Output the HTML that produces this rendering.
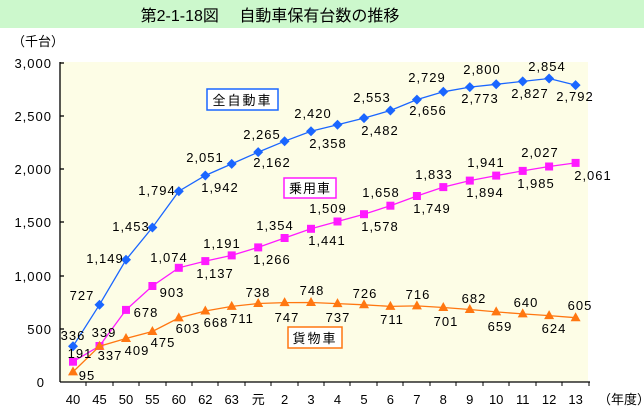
<!DOCTYPE html>
<html><head><meta charset="utf-8"><style>
body{margin:0;background:#fff;width:644px;height:415px;overflow:hidden}
svg{display:block}
text{font-family:"Liberation Sans","Noto Sans CJK JP",sans-serif;font-size:13px;fill:#000}
.n{letter-spacing:1px}
</style></head><body>
<svg width="644" height="415" viewBox="0 0 644 415">
<rect x="0" y="0" width="644" height="28" fill="#ccf8cc"/>
<text x="270" y="21" text-anchor="middle" style="font-size:16px">第2-1-18図　 自動車保有台数の推移</text>
<text x="12" y="46">（千台）</text>
<rect x="60" y="62" width="528" height="320" fill="#fdfde6"/>
<g stroke="#000" stroke-width="1.3">
<line x1="60" y1="62" x2="60" y2="382"/>
<line x1="60" y1="382" x2="590" y2="382"/>
<line x1="60" y1="63" x2="64" y2="63"/><line x1="60" y1="116" x2="64" y2="116"/><line x1="60" y1="169" x2="64" y2="169"/><line x1="60" y1="222" x2="64" y2="222"/><line x1="60" y1="276" x2="64" y2="276"/><line x1="60" y1="329" x2="64" y2="329"/>
</g>
<g stroke="#000" stroke-width="1">
<line x1="86" y1="382" x2="86" y2="386"/><line x1="113" y1="382" x2="113" y2="386"/><line x1="139" y1="382" x2="139" y2="386"/><line x1="166" y1="382" x2="166" y2="386"/><line x1="192" y1="382" x2="192" y2="386"/><line x1="218" y1="382" x2="218" y2="386"/><line x1="245" y1="382" x2="245" y2="386"/><line x1="271" y1="382" x2="271" y2="386"/><line x1="298" y1="382" x2="298" y2="386"/><line x1="324" y1="382" x2="324" y2="386"/><line x1="350" y1="382" x2="350" y2="386"/><line x1="377" y1="382" x2="377" y2="386"/><line x1="403" y1="382" x2="403" y2="386"/><line x1="430" y1="382" x2="430" y2="386"/><line x1="456" y1="382" x2="456" y2="386"/><line x1="483" y1="382" x2="483" y2="386"/><line x1="509" y1="382" x2="509" y2="386"/><line x1="536" y1="382" x2="536" y2="386"/><line x1="562" y1="382" x2="562" y2="386"/><line x1="589" y1="382" x2="589" y2="386"/>
</g>
<g text-anchor="end" class="n">
<text x="52" y="68">3,000</text><text x="52" y="121">2,500</text><text x="52" y="174">2,000</text><text x="52" y="227">1,500</text><text x="52" y="281">1,000</text><text x="52" y="334">500</text><text x="45" y="387">0</text>
</g>
<g text-anchor="middle">
<text x="73" y="404">40</text><text x="99.5" y="404">45</text><text x="126" y="404">50</text><text x="152.4" y="404">55</text><text x="178.8" y="404">60</text><text x="205.3" y="404">62</text><text x="231.7" y="404">63</text><text x="258.2" y="404">元</text><text x="284.6" y="404">2</text><text x="311" y="404">3</text><text x="337.5" y="404">4</text><text x="364" y="404">5</text><text x="390.4" y="404">6</text><text x="416.9" y="404">7</text><text x="443.3" y="404">8</text><text x="469.8" y="404">9</text><text x="496.2" y="404">10</text><text x="522.7" y="404">11</text><text x="549.1" y="404">12</text><text x="575.6" y="404">13</text>
</g>
<text x="598" y="404">（年度）</text>

<polyline fill="none" stroke="#1a66ff" stroke-width="1.3" points="73,346.3 99.5,304.7 126,259.8 152.4,227.5 178.8,191.2 205.3,175.5 231.7,163.9 258.2,152.1 284.6,141.2 311,131.3 337.5,124.7 364,118.1 390.4,110.5 416.9,99.6 443.3,91.8 469.8,87.1 496.2,84.3 522.7,81.4 549.1,78.5 575.6,85.1"/>
<g fill="#1a66ff">
<path d="M73,341.3l5,5-5,5-5-5z"/><path d="M99.5,299.7l5,5-5,5-5-5z"/><path d="M126,254.8l5,5-5,5-5-5z"/><path d="M152.4,222.5l5,5-5,5-5-5z"/><path d="M178.8,186.2l5,5-5,5-5-5z"/><path d="M205.3,170.5l5,5-5,5-5-5z"/><path d="M231.7,158.9l5,5-5,5-5-5z"/><path d="M258.2,147.1l5,5-5,5-5-5z"/><path d="M284.6,136.2l5,5-5,5-5-5z"/><path d="M311,126.3l5,5-5,5-5-5z"/><path d="M337.5,119.7l5,5-5,5-5-5z"/><path d="M364,113.1l5,5-5,5-5-5z"/><path d="M390.4,105.5l5,5-5,5-5-5z"/><path d="M416.9,94.6l5,5-5,5-5-5z"/><path d="M443.3,86.8l5,5-5,5-5-5z"/><path d="M469.8,82.1l5,5-5,5-5-5z"/><path d="M496.2,79.3l5,5-5,5-5-5z"/><path d="M522.7,76.4l5,5-5,5-5-5z"/><path d="M549.1,73.5l5,5-5,5-5-5z"/><path d="M575.6,80.1l5,5-5,5-5-5z"/>
</g>
<polyline fill="none" stroke="#ff1aff" stroke-width="1.3" points="73,361.7 99.5,346 126,309.9 152.4,286 178.8,267.8 205.3,261.1 231.7,255.4 258.2,247.4 284.6,238 311,228.8 337.5,221.5 364,214.2 390.4,205.7 416.9,196 443.3,187.1 469.8,180.6 496.2,175.6 522.7,170.9 549.1,166.5 575.6,162.9"/>
<g fill="#ff1aff">
<rect x="69" y="357.7" width="8" height="8"/><rect x="95.5" y="342" width="8" height="8"/><rect x="122" y="305.9" width="8" height="8"/><rect x="148.4" y="282" width="8" height="8"/><rect x="174.8" y="263.8" width="8" height="8"/><rect x="201.3" y="257.1" width="8" height="8"/><rect x="227.7" y="251.4" width="8" height="8"/><rect x="254.2" y="243.4" width="8" height="8"/><rect x="280.6" y="234" width="8" height="8"/><rect x="307" y="224.8" width="8" height="8"/><rect x="333.5" y="217.5" width="8" height="8"/><rect x="360" y="210.2" width="8" height="8"/><rect x="386.4" y="201.7" width="8" height="8"/><rect x="412.9" y="192" width="8" height="8"/><rect x="439.3" y="183.1" width="8" height="8"/><rect x="465.8" y="176.6" width="8" height="8"/><rect x="492.2" y="171.6" width="8" height="8"/><rect x="518.7" y="166.9" width="8" height="8"/><rect x="545.1" y="162.5" width="8" height="8"/><rect x="571.6" y="158.9" width="8" height="8"/>
</g>
<polyline fill="none" stroke="#ff7711" stroke-width="1.3" points="73,371.9 99.5,346.2 126,338.5 152.4,331.5 178.8,317.9 205.3,311 231.7,306.4 258.2,303.5 284.6,302.6 311,302.5 337.5,303.6 364,304.8 390.4,306.4 416.9,305.9 443.3,307.5 469.8,309.5 496.2,311.9 522.7,313.9 549.1,315.6 575.6,317.7"/>
<g fill="#ff7711">
<path d="M73,366.4l5,9h-10z"/><path d="M99.5,340.7l5,9h-10z"/><path d="M126,333l5,9h-10z"/><path d="M152.4,326l5,9h-10z"/><path d="M178.8,312.4l5,9h-10z"/><path d="M205.3,305.5l5,9h-10z"/><path d="M231.7,300.9l5,9h-10z"/><path d="M258.2,298l5,9h-10z"/><path d="M284.6,297.1l5,9h-10z"/><path d="M311,297l5,9h-10z"/><path d="M337.5,298.1l5,9h-10z"/><path d="M364,299.3l5,9h-10z"/><path d="M390.4,300.9l5,9h-10z"/><path d="M416.9,300.4l5,9h-10z"/><path d="M443.3,302l5,9h-10z"/><path d="M469.8,304l5,9h-10z"/><path d="M496.2,306.4l5,9h-10z"/><path d="M522.7,308.4l5,9h-10z"/><path d="M549.1,310.1l5,9h-10z"/><path d="M575.6,312.2l5,9h-10z"/>
</g>

<g class="n" text-anchor="middle">
<text x="73" y="340">336</text>
<text x="82" y="300">727</text>
<text x="105" y="263">1,149</text>
<text x="131" y="231">1,453</text>
<text x="157" y="195">1,794</text>
<text x="220" y="192">1,942</text>
<text x="205" y="162">2,051</text>
<text x="272" y="167">2,162</text>
<text x="262" y="139">2,265</text>
<text x="328" y="148">2,358</text>
<text x="313" y="118">2,420</text>
<text x="380" y="135">2,482</text>
<text x="372" y="102">2,553</text>
<text x="428" y="115">2,656</text>
<text x="427" y="82">2,729</text>
<text x="480" y="103">2,773</text>
<text x="482" y="74">2,800</text>
<text x="530" y="98">2,827</text>
<text x="547" y="71">2,854</text>
<text x="575" y="101">2,792</text>
</g>
<g class="n" text-anchor="middle">
<text x="80" y="358">191</text>
<text x="104" y="337">339</text>
<text x="146" y="317">678</text>
<text x="172" y="297">903</text>
<text x="169" y="262">1,074</text>
<text x="215" y="278">1,137</text>
<text x="222" y="248">1,191</text>
<text x="272" y="264">1,266</text>
<text x="275" y="230">1,354</text>
<text x="327" y="245">1,441</text>
<text x="328" y="213">1,509</text>
<text x="380" y="231">1,578</text>
<text x="381" y="197">1,658</text>
<text x="432" y="213">1,749</text>
<text x="434" y="179">1,833</text>
<text x="485" y="197">1,894</text>
<text x="486" y="167">1,941</text>
<text x="536" y="188">1,985</text>
<text x="540" y="157">2,027</text>
<text x="593" y="180">2,061</text>
</g>
<g class="n" text-anchor="middle">
<text x="87" y="380">95</text>
<text x="110" y="360">337</text>
<text x="137" y="355">409</text>
<text x="163" y="347">475</text>
<text x="188" y="333">603</text>
<text x="216" y="327">668</text>
<text x="242" y="323">711</text>
<text x="258" y="297">738</text>
<text x="287" y="322">747</text>
<text x="312" y="295">748</text>
<text x="338" y="322">737</text>
<text x="365" y="298">726</text>
<text x="392" y="324">711</text>
<text x="418" y="299">716</text>
<text x="446" y="326">701</text>
<text x="474" y="303">682</text>
<text x="500" y="331">659</text>
<text x="526" y="307">640</text>
<text x="554" y="333">624</text>
<text x="580" y="310">605</text>
</g>

<rect x="207" y="89" width="71" height="21" fill="#fff" stroke="#1a66ff" stroke-width="1.5"/>
<text x="242.5" y="105" text-anchor="middle" style="letter-spacing:2px">全自動車</text>
<rect x="284" y="178" width="52" height="20" fill="#fff" stroke="#ff1aff" stroke-width="1.5"/>
<text x="310" y="193" text-anchor="middle" style="letter-spacing:1px">乗用車</text>
<rect x="288" y="327" width="54" height="21" fill="#fff" stroke="#ff7711" stroke-width="1.5"/>
<text x="315" y="343" text-anchor="middle" style="letter-spacing:2px">貨物車</text>
</svg>
</body></html>
